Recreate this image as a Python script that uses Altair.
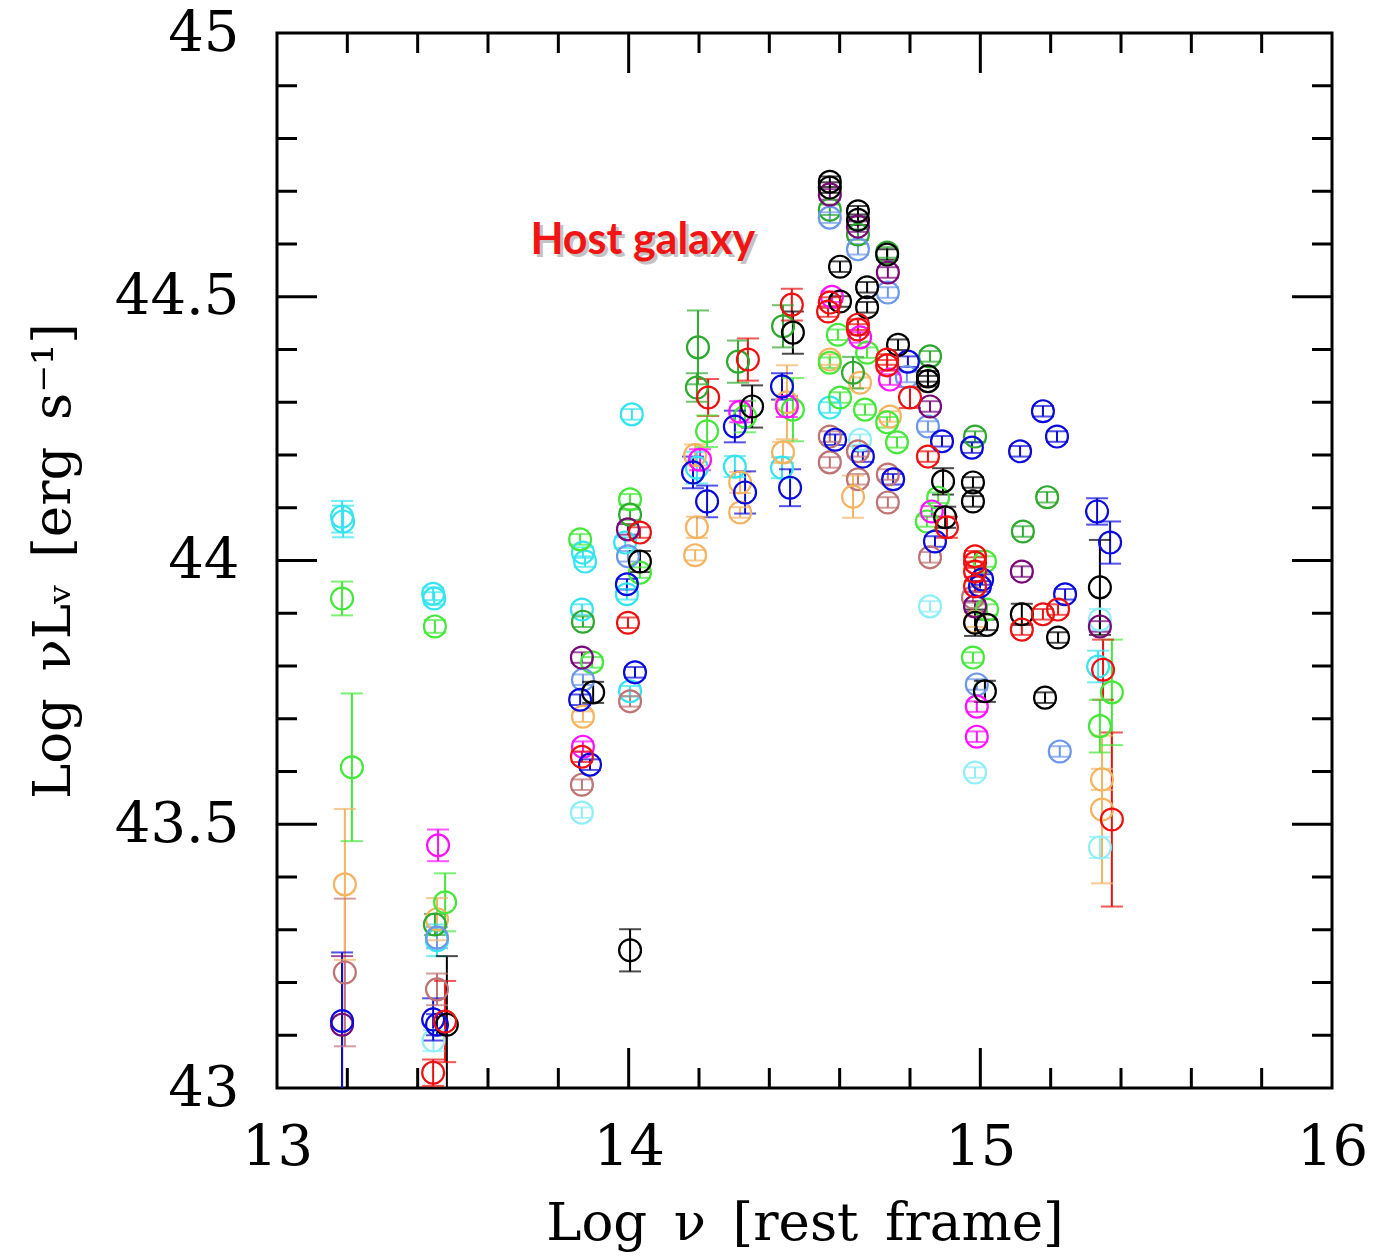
import altair as alt
import pandas as pd

# ---- photometric points: log frequency, log luminosity, 1-sigma error ----
cyan_x = [13.185, 13.188, 13.444, 13.447, 13.455, 13.870, 13.876, 13.867, 13.990, 13.995, 14.009, 14.004,
          14.194, 14.302, 14.436, 14.572, 15.335]
cyan_y = [44.083, 44.074, 43.937, 43.928, 43.280, 44.015, 43.998, 43.907, 44.034, 43.936, 44.277, 43.752,
          44.176, 44.178, 44.176, 44.290, 43.799]
cyan_err = [0.03, 0.03, 0.012, 0.012, 0.03, 0.01, 0.01, 0.01, 0.01, 0.01, 0.01, 0.01,
            0.03, 0.02, 0.02, 0.01, 0.03]

pale_x = [13.445, 13.867, 14.658, 14.857, 14.985, 15.340, 15.340]
pale_y = [43.090, 43.522, 44.229, 43.913, 43.598, 43.888, 43.456]
pale_err = [0.02, 0.01, 0.01, 0.01, 0.01, 0.02, 0.02]

lime_x = [13.185, 13.213, 13.449, 13.478, 13.862, 13.896, 14.004, 14.032, 14.223, 14.331, 14.467,
          14.595, 14.678, 14.572, 14.601, 14.672, 14.735, 14.763, 14.880, 14.848, 15.013, 15.019,
          14.979, 15.374, 15.340]
lime_y = [43.928, 43.608, 43.875, 43.352, 44.040, 43.807, 44.116, 43.977, 44.245, 44.273, 44.286,
          44.428, 44.394, 44.375, 44.309, 44.286, 44.262, 44.224, 44.119, 44.074, 43.998, 43.907,
          43.816, 43.750, 43.686]
lime_err = [0.032, 0.14, 0.012, 0.055, 0.01, 0.01, 0.01, 0.01, 0.03, 0.03, 0.06,
            0.01, 0.01, 0.01, 0.01, 0.01, 0.01, 0.01, 0.01, 0.01, 0.01, 0.01,
            0.01, 0.10, 0.05]

green_x = [13.449, 13.870, 14.004, 14.197, 14.194, 14.311, 14.439, 14.572, 14.652, 14.735, 14.638,
           14.857, 14.985, 15.190, 15.121]
green_y = [43.310, 43.884, 44.087, 44.404, 44.328, 44.377, 44.444, 44.665, 44.618, 44.584, 44.356,
           44.387, 44.235, 44.120, 44.055]
green_err = [0.02, 0.01, 0.01, 0.07, 0.027, 0.04, 0.04, 0.01, 0.01, 0.01, 0.03,
             0.01, 0.01, 0.01, 0.01]

orange_x = [13.193, 13.455, 13.870, 14.189, 14.194, 14.189, 14.317, 14.317, 14.450, 14.439, 14.572,
            14.658, 14.638, 14.743, 14.985, 15.346, 15.346]
orange_y = [43.386, 43.320, 43.704, 44.200, 44.063, 44.010, 44.148, 44.091, 44.300, 44.205, 44.381,
            44.337, 44.121, 44.273, 43.884, 43.585, 43.528]
orange_err = [0.143, 0.04, 0.01, 0.02, 0.02, 0.01, 0.02, 0.01, 0.07, 0.02, 0.01,
              0.01, 0.04, 0.01, 0.01, 0.02, 0.14]

brown_x = [13.193, 13.455, 13.867, 14.004, 14.572, 14.652, 14.572, 14.652, 14.737, 14.737, 14.857, 14.979]
brown_y = [43.219, 43.187, 43.575, 43.733, 44.235, 44.207, 44.186, 44.154, 44.163, 44.110, 44.006, 43.930]
brown_err = [0.14, 0.03, 0.01, 0.01, 0.01, 0.01, 0.01, 0.01, 0.01, 0.01, 0.01, 0.01]

blue_x = [13.185, 13.444, 13.455, 13.862, 13.890, 13.995, 14.018, 14.183, 14.223, 14.302, 14.331,
          14.436, 14.459, 14.587, 14.666, 14.752, 14.794, 14.891, 14.976, 15.113, 15.178, 15.218,
          14.871, 15.005, 14.999, 15.241, 15.332, 15.369]
blue_y = [43.127, 43.130, 43.120, 43.736, 43.613, 43.955, 43.788, 44.167, 44.112, 44.254, 44.129,
          44.330, 44.138, 44.229, 44.197, 44.154, 44.377, 44.226, 44.214, 44.207, 44.283, 44.235,
          44.036, 43.964, 43.951, 43.936, 44.093, 44.034]
blue_err = [0.13, 0.04, 0.02, 0.01, 0.01, 0.01, 0.01, 0.03, 0.03, 0.03, 0.04,
            0.025, 0.035, 0.01, 0.01, 0.01, 0.01, 0.01, 0.01, 0.01, 0.01, 0.01,
            0.01, 0.01, 0.01, 0.01, 0.025, 0.04]

sky_x = [13.455, 13.870, 13.998, 14.572, 14.652, 14.737, 14.791, 14.851, 14.990, 15.226]
sky_y = [43.285, 43.774, 44.008, 44.650, 44.590, 44.508, 44.348, 44.254, 43.765, 43.638]
sky_err = [0.02, 0.01, 0.01, 0.01, 0.01, 0.01, 0.01, 0.01, 0.01, 0.01]

black_x = [13.483, 13.899, 14.032, 14.004, 14.351, 14.467, 14.572, 14.572, 14.652, 14.652, 14.601,
           14.601, 14.678, 14.678, 14.735, 14.766, 14.851, 14.851, 14.894, 14.979, 14.979, 14.900,
           14.985, 15.019, 15.013, 15.118, 15.221, 15.184, 15.340]
black_y = [43.120, 43.750, 43.998, 43.261, 44.292, 44.432, 44.718, 44.707, 44.662, 44.646, 44.557,
           44.491, 44.518, 44.480, 44.580, 44.409, 44.349, 44.340, 44.150, 44.148, 44.112, 44.082,
           43.882, 43.878, 43.752, 43.898, 43.854, 43.740, 43.949]
black_err = [0.13, 0.02, 0.02, 0.04, 0.04, 0.04, 0.01, 0.01, 0.01, 0.01, 0.01,
             0.01, 0.01, 0.01, 0.01, 0.01, 0.01, 0.01, 0.025, 0.01, 0.01, 0.02,
             0.025, 0.01, 0.02, 0.02, 0.01, 0.01, 0.09]

red_x = [13.478, 13.444, 13.867, 14.032, 13.998, 14.226, 14.339, 14.464, 14.572, 14.567, 14.652,
         14.652, 14.735, 14.735, 14.800, 14.851, 14.905, 14.985, 14.985, 14.985, 14.985, 15.118,
         15.178, 15.221, 15.349, 15.374]
red_y = [43.126, 43.029, 43.628, 44.053, 43.882, 44.309, 44.381, 44.485, 44.489, 44.472, 44.447,
         44.438, 44.381, 44.370, 44.309, 44.197, 44.063, 44.008, 43.996, 43.979, 43.951, 43.869,
         43.898, 43.907, 43.793, 43.509]
red_err = [0.077, 0.025, 0.01, 0.01, 0.01, 0.035, 0.04, 0.03, 0.01, 0.01, 0.01,
           0.01, 0.01, 0.01, 0.02, 0.01, 0.02, 0.01, 0.01, 0.01, 0.01, 0.01,
           0.01, 0.01, 0.057, 0.165]

magenta_x = [13.458, 13.870, 14.203, 14.317, 14.450, 14.578, 14.658, 14.743, 14.862, 14.990, 14.990]
magenta_y = [43.460, 43.647, 44.191, 44.282, 44.292, 44.500, 44.423, 44.343, 44.093, 43.723, 43.666]
magenta_err = [0.03, 0.01, 0.02, 0.02, 0.02, 0.01, 0.01, 0.01, 0.01, 0.01, 0.01]

purple_x = [13.185, 13.867, 13.998, 14.572, 14.652, 14.737, 14.857, 14.985, 15.118, 15.340]
purple_y = [43.120, 43.816, 44.059, 44.694, 44.633, 44.546, 44.292, 43.913, 43.979, 43.875]
purple_err = [0.13, 0.01, 0.01, 0.01, 0.01, 0.01, 0.01, 0.01, 0.01, 0.01]

series = [
    ("cyan", "#35E4F0", cyan_x, cyan_y, cyan_err),
    ("pale", "#90EEF8", pale_x, pale_y, pale_err),
    ("brown", "#BE7474", brown_x, brown_y, brown_err),
    ("orange", "#F5B462", orange_x, orange_y, orange_err),
    ("lime", "#45E83A", lime_x, lime_y, lime_err),
    ("green", "#2FA82F", green_x, green_y, green_err),
    ("sky", "#6C97EA", sky_x, sky_y, sky_err),
    ("purple", "#780A78", purple_x, purple_y, purple_err),
    ("magenta", "#FF10FF", magenta_x, magenta_y, magenta_err),
    ("blue", "#0A0ADC", blue_x, blue_y, blue_err),
    ("black", "#000000", black_x, black_y, black_err),
    ("red", "#EE1010", red_x, red_y, red_err),
]

rows = []
for order, (name, _, xs_, ys_, es_) in enumerate(series):
    for x, y, e in zip(xs_, ys_, es_):
        rows.append({"src": name, "ord": order, "nu": x, "lum": y, "lo": y - e, "hi": y + e})
points = pd.DataFrame(rows)

color_scale = alt.Scale(domain=[s[0] for s in series], range=[s[1] for s in series])

# axis tick positions
x_minor = [13.2, 13.4, 13.6, 13.8, 14.2, 14.4, 14.6, 14.8, 15.2, 15.4, 15.6, 15.8]
x_major = [14.0, 15.0]
y_minor = [43.1, 43.2, 43.3, 43.4, 43.6, 43.7, 43.8, 43.9, 44.1, 44.2, 44.3, 44.4, 44.6, 44.7, 44.8, 44.9]
y_major = [43.5, 44.0, 44.5]
x_labels = [13, 14, 15, 16]
y_labels = [43, 43.5, 44, 44.5, 45]

W = 1055
H = 1055
SERIF = "DejaVu Serif"
SP = "\u2002"

xs = alt.Scale(domain=[13, 16], nice=False, zero=False)
ys = alt.Scale(domain=[43, 45], nice=False, zero=False)

x_axis = alt.Axis(values=x_labels, grid=False, ticks=False, domain=False,
                  labelFont=SERIF, labelFontSize=56, labelColor="black", labelPadding=32,
                  labelFlush=False, labelExpr="'' + datum.value",
                  title=f"Log{SP}ν{SP}[rest{SP}frame]", titleFont=SERIF, titleFontSize=53,
                  titleFontWeight="normal", titleColor="black", titlePadding=22)
y_axis = alt.Axis(values=y_labels, grid=False, ticks=False, domain=False,
                  labelFont=SERIF, labelFontSize=56, labelColor="black", labelPadding=38,
                  labelFlush=False, labelExpr="'' + datum.value",
                  title=f"Log{SP}νLᵥ{SP}[erg{SP}s⁻¹]", titleFont=SERIF, titleFontSize=53,
                  titleFontWeight="normal", titleColor="black", titlePadding=34)

base = alt.Chart(points)

bars = base.mark_rule(strokeWidth=2, clip=True).encode(
    x=alt.X("nu:Q", scale=xs, axis=x_axis),
    y=alt.Y("lo:Q", scale=ys, axis=y_axis),
    y2="hi:Q",
    color=alt.Color("src:N", scale=color_scale, legend=None),
)
cap_lo = base.mark_tick(orient="horizontal", size=22, thickness=2, clip=True).encode(
    x=alt.X("nu:Q", scale=xs), y=alt.Y("lo:Q", scale=ys),
    color=alt.Color("src:N", scale=color_scale, legend=None),
)
cap_hi = base.mark_tick(orient="horizontal", size=22, thickness=2, clip=True).encode(
    x=alt.X("nu:Q", scale=xs), y=alt.Y("hi:Q", scale=ys),
    color=alt.Color("src:N", scale=color_scale, legend=None),
)
circles = base.mark_point(shape="circle", filled=False, size=480, strokeWidth=2.2, opacity=1, clip=True).encode(
    x=alt.X("nu:Q", scale=xs), y=alt.Y("lum:Q", scale=ys),
    color=alt.Color("src:N", scale=color_scale, legend=None),
    order="ord:Q",
)

# inward-pointing frame ticks
def xticks(vals, length):
    df = pd.DataFrame({"v": vals})
    bottom = alt.Chart(df).mark_rule(color="black", strokeWidth=3).encode(
        x=alt.X("v:Q", scale=xs), y=alt.value(H), y2=alt.value(H - length))
    top = alt.Chart(df).mark_rule(color="black", strokeWidth=3).encode(
        x=alt.X("v:Q", scale=xs), y=alt.value(0), y2=alt.value(length))
    return [bottom, top]

def yticks(vals, length):
    df = pd.DataFrame({"v": vals})
    left = alt.Chart(df).mark_rule(color="black", strokeWidth=3).encode(
        y=alt.Y("v:Q", scale=ys), x=alt.value(0), x2=alt.value(length))
    right = alt.Chart(df).mark_rule(color="black", strokeWidth=3).encode(
        y=alt.Y("v:Q", scale=ys), x=alt.value(W), x2=alt.value(W - length))
    return [left, right]

frame_ticks = xticks(x_minor, 20) + xticks(x_major, 40) + yticks(y_minor, 20) + yticks(y_major, 40)

# annotation with a soft drop shadow
label_df = pd.DataFrame({"nu": [14.04], "lum": [44.605], "txt": ["Host galaxy"]})
shadow = alt.Chart(label_df).mark_text(font="Lato", fontSize=43, fontWeight="bold",
                                       color="#888888", opacity=0.5, dx=3, dy=3).encode(
    x=alt.X("nu:Q", scale=xs), y=alt.Y("lum:Q", scale=ys), text="txt:N")
label = alt.Chart(label_df).mark_text(font="Lato", fontSize=43, fontWeight="bold",
                                      color="#F01414").encode(
    x=alt.X("nu:Q", scale=xs), y=alt.Y("lum:Q", scale=ys), text="txt:N")

chart = alt.layer(bars, cap_lo, cap_hi, circles, *frame_ticks, shadow, label).properties(
    width=W, height=H,
    autosize=alt.AutoSizeParams(type="none"),
    padding={"left": 277, "top": 33, "right": 45, "bottom": 171},
    background="white",
).configure_view(stroke="black", strokeWidth=3)

chart.save("out.html", embed_options={"renderer": "svg", "actions": False})
